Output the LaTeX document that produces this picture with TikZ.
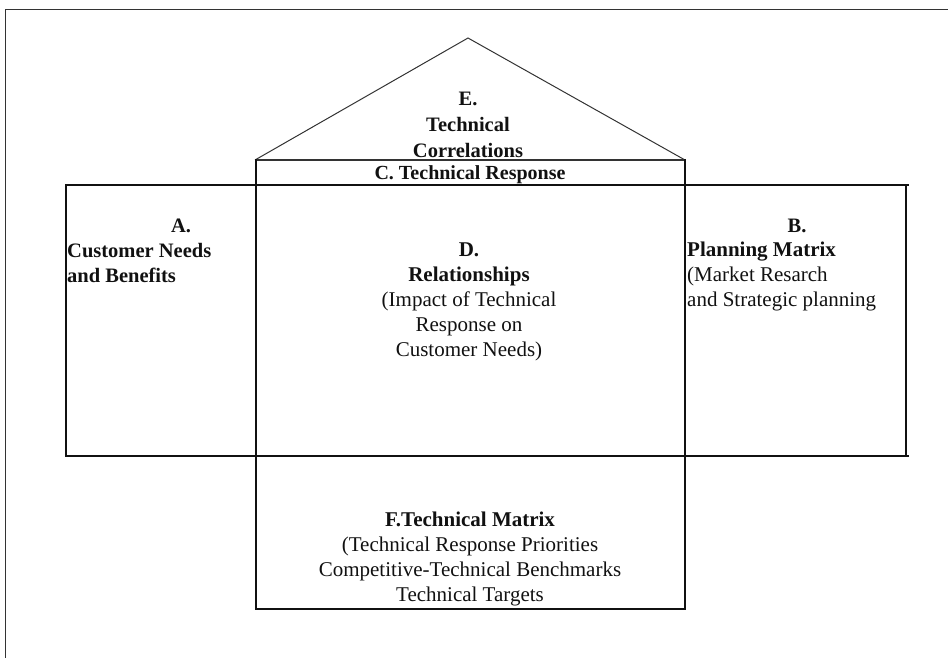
\documentclass[tikz,border=0pt]{standalone}
\usepackage{fontspec}
\setmainfont{Liberation Serif}
\usepackage{tikz}
\usetikzlibrary{positioning}
\definecolor{ink}{HTML}{111111}
\definecolor{frame}{HTML}{333333}
\tikzset{
  wall/.style={draw=ink, line width=2.6pt, line cap=rect},
  thin/.style={draw=frame, line width=1pt},
  lbl/.style={inner sep=0pt, text=ink, align=center,
              font=\fontsize{21}{25}\selectfont},
  lbll/.style={lbl, align=left},
}

\begin{document}
\begin{tikzpicture}[x=1pt, y=-1pt]
  \useasboundingbox (0,0) rectangle (948,658);
  % outer frame (open at the right and bottom)
  \draw[thin] (5,658) -- (5,10) -- (948,10);
  % roof
  \draw[thin] (255,160) -- (468,38) -- (685,160);
  \draw[thin, line width=1.4pt] (255,160) -- (685,160);
  % walls
  \draw[wall] (66,185) -- (908,185);
  \draw[wall] (66,456) -- (908,456);
  \draw[wall] (66,185) -- (66,456);
  \draw[wall] (906,185) -- (906,456);
  \draw[wall] (256,160) -- (256,609) -- (685,609) -- (685,160);

  % labels
  \node[lbl, font=\fontsize{20.5}{26}\selectfont\bfseries] (corr) at (468,125)
    {E.\\Technical\\Correlations};
  \node[lbl, font=\fontsize{20}{25}\selectfont\bfseries] (resp) at (470,175)
    {C. Technical Response};
  \node[lbl, font=\fontsize{20.5}{25}\selectfont\bfseries] (needsA) at (181,226) {A.};
  \node[lbll, font=\fontsize{20.5}{25}\selectfont\bfseries, anchor=west] (needs) at (67,263)
    {Customer Needs\\and Benefits};
  \node[lbl, font=\fontsize{20.5}{25}\selectfont\bfseries] (planB) at (797,226) {B.};
  \node[lbll, anchor=west] (plan) at (687,276)
    {\textbf{Planning Matrix}\\(Market Resarch\\and Strategic planning};
  \node[lbl] (rel) at (469,302)
    {\textbf{D.}\\\textbf{Relationships}\\(Impact of Technical\\Response on\\Customer Needs)};
  \node[lbl] (matrix) at (470,559)
    {\textbf{F.Technical Matrix}\\(Technical Response Priorities\\Competitive-Technical Benchmarks\\Technical Targets};
\end{tikzpicture}
\end{document}
